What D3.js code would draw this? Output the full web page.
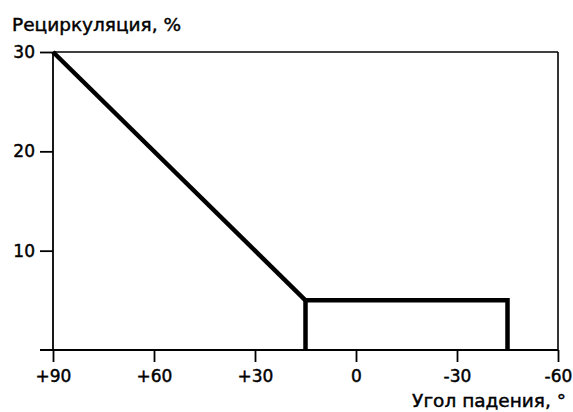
<!DOCTYPE html>
<html>
<head>
<meta charset="utf-8">
<script src="https://cdn.jsdelivr.net/npm/d3@7"></script>
<style>
  body { margin: 0; background: #fff; }
  text { font-family: "DejaVu Sans", sans-serif; fill: #000; stroke: #000; stroke-width: 0.45px; }
</style>
</head>
<body>
<svg id="chart" width="573" height="412"></svg>
<script>
// данные
const xTicks = [90, 60, 30, 0, -30, -60]
const xTickLabels = ['+90', '+60', '+30', '0', '-30', '-60']
const yTicks = [10, 20, 30]
const slopeX = [90, 15]
const slopeY = [30, 5]
const boxX = [15, 15, -45, -45]
const boxY = [0, 5, 5, 0]

const font = '"DejaVu Sans", sans-serif'
const svg = d3.select('#chart')

const x = d3.scaleLinear().domain([90, -60]).range([53, 558])
const y = d3.scaleLinear().domain([0, 30]).range([350, 52])

// рамка
svg.append('line')
    .attr('x1', x(90)).attr('x2', x(-60))
    .attr('y1', y(30)).attr('y2', y(30))
    .attr('stroke', '#000').attr('stroke-width', 1.6)
svg.append('line')
    .attr('x1', x(-60)).attr('x2', x(-60))
    .attr('y1', y(30)).attr('y2', y(0))
    .attr('stroke', '#000').attr('stroke-width', 1.6)

var xAxis = d3.axisBottom(x)
    .tickValues(xTicks)
    .tickFormat((d, i) => xTickLabels[i])
    .tickSize(12)
    .tickSizeOuter(0)
    .tickPadding(8)

var gx = svg.append('g')
    .attr('transform', `translate(0, ${y(0)})`)
    .call(xAxis)
gx.select('.domain').remove()
gx.selectAll('line').attr('stroke-width', 1.8)
gx.selectAll('text').attr('font-size', 17).attr('font-family', font)
gx.append('line')
    .attr('x1', 40).attr('x2', x(-60))
    .attr('y1', 0).attr('y2', 0)
    .attr('stroke', '#000').attr('stroke-width', 1.8)

var yAxis = d3.axisLeft(y)
    .tickValues(yTicks)
    .tickSize(13)
    .tickSizeOuter(0)
    .tickPadding(5)

var gy = svg.append('g')
    .attr('transform', `translate(${x(90)}, 0)`)
    .call(yAxis)
gy.select('.domain').remove()
gy.selectAll('line').attr('stroke-width', 1.8)
gy.selectAll('text').attr('font-size', 17).attr('font-family', font)
gy.append('line')
    .attr('x1', 0).attr('x2', 0)
    .attr('y1', y(30)).attr('y2', y(0))
    .attr('stroke', '#000').attr('stroke-width', 1.8)

// линии
const line = d3.line().x(d => x(d[0])).y(d => y(d[1]))
svg.append('path')
    .datum(d3.zip(slopeX, slopeY))
    .attr('d', line)
    .attr('fill', 'none').attr('stroke', '#000').attr('stroke-width', 4.5)
svg.append('path')
    .datum(d3.zip(boxX, boxY))
    .attr('d', line)
    .attr('fill', 'none').attr('stroke', '#000').attr('stroke-width', 4.5)
    .attr('stroke-linejoin', 'miter')

// подписи осей
svg.append('text')
    .attr('x', 12).attr('y', 31)
    .attr('font-size', 18.5)
    .text('Рециркуляция, %')
svg.append('text')
    .attr('x', 566).attr('y', 407)
    .attr('text-anchor', 'end')
    .attr('font-size', 18.5)
    .text('Угол падения, °')
</script>
</body>
</html>
